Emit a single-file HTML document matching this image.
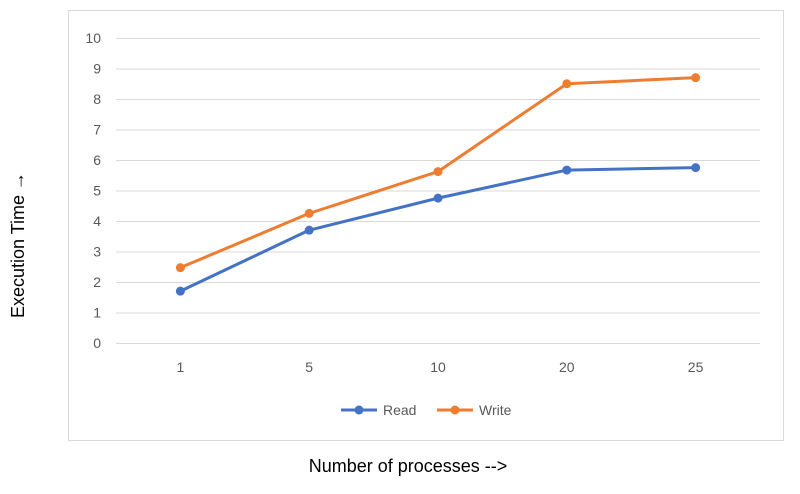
<!DOCTYPE html>
<html><head><meta charset="utf-8"><style>
body{margin:0;background:#fff;font-family:"Liberation Sans",sans-serif}
svg{display:block}
</style></head><body>
<svg width="800" height="494" xmlns="http://www.w3.org/2000/svg">
<rect x="68.5" y="10.5" width="715" height="430" fill="#fff" stroke="#d9d9d9"/>
<g id="grid"></g><g id="series"></g>
<g>
<g><line x1="341" y1="410" x2="377" y2="410" stroke="#4472c4" stroke-width="3"/><circle cx="359" cy="410" r="4.5" fill="#4472c4"/><text x="383" y="415" font-size="14" fill="#595959">Read</text></g>
<g><line x1="437" y1="410" x2="473" y2="410" stroke="#ed7d31" stroke-width="3"/><circle cx="455" cy="410" r="4.5" fill="#ed7d31"/><text x="479" y="415" font-size="14" fill="#595959">Write</text></g>
</g>
<text x="24" y="245" font-size="18" fill="#000" text-anchor="middle" transform="rotate(-90 24 245)">Execution Time →</text>
<text x="408" y="472" font-size="18" fill="#000" text-anchor="middle">Number of processes --&gt;</text>
</svg>
<script>
const categories=["1","5","10","20","25"];
const readValues=[1.7,3.7,4.75,5.67,5.75];
const writeValues=[2.47,4.25,5.62,8.5,8.7];
const yTicks=[0,1,2,3,4,5,6,7,8,9,10];
const NS="http://www.w3.org/2000/svg";
const x0=116,x1=760,y0=343,yTop=38;
const xs=i=>x0+(x1-x0)/categories.length*(i+0.5);
const ys=v=>y0-(y0-yTop)*v/10;
const grid=document.getElementById('grid'),ser=document.getElementById('series');
function mk(t,a,p){const e=document.createElementNS(NS,t);for(const k in a)e.setAttribute(k,a[k]);p.appendChild(e);return e;}
yTicks.forEach(t=>{
 const l=mk('line',{x1:x0,x2:x1,y1:ys(t)+0.5,y2:ys(t)+0.5,stroke:'#d9d9d9'},grid);
 
 
 const tx=mk('text',{x:101,y:ys(t)+5,'font-size':14,fill:'#595959','text-anchor':'end'},grid);tx.textContent=t;
 
 
});
categories.forEach((c,i)=>{
 const tx=mk('text',{x:xs(i),y:372,'font-size':14,fill:'#595959','text-anchor':'middle'},grid);tx.textContent=c;
 
 
});
function draw(vals,col,name){
 const p=mk('polyline',{points:vals.map((v,i)=>xs(i)+','+ys(v)).join(' '),fill:'none',stroke:col,'stroke-width':3,'stroke-linejoin':'round'},ser);
 
 
 vals.forEach((v,i)=>{const c=mk('circle',{cx:xs(i),cy:ys(v),r:4.5,fill:col},ser);
 
 });
}
draw(readValues,'#4472c4','read');
draw(writeValues,'#ed7d31','write');
</script>
</body></html>
